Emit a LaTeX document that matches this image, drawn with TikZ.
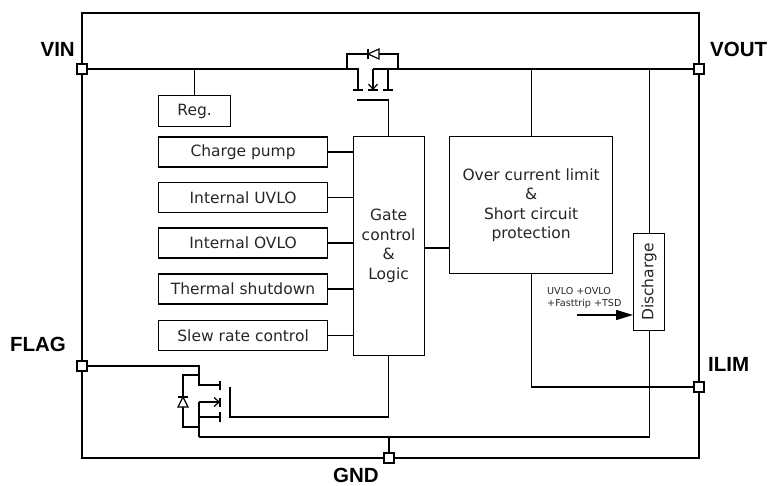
\documentclass[tikz,border=0pt]{standalone}
\usepackage{fontspec}
\usepackage{graphicx}
\setmainfont{DejaVu Sans}
\newfontfamily\labelfont{Liberation Sans}
\usetikzlibrary{arrows.meta}
\begin{document}
\begin{tikzpicture}[x=1pt,y=-1pt,
  blk/.style={draw, line width=1.2pt, inner sep=0pt, anchor=north west, align=center,
    text=black!85, font=\fontsize{15.5}{19.5}\selectfont},
  pinbox/.style={draw, fill=white, line width=1.2pt, minimum size=10pt, inner sep=0pt},
  wire/.style={line width=1.2pt},
  frameline/.style={line width=2.2pt},
  plabel/.style={inner sep=0pt, font=\labelfont\bfseries\fontsize{20.5}{24}\selectfont},
  barb/.style={-{Straight Barb[length=5pt,width=9pt]}}
]
\useasboundingbox (0,0) rectangle (771,486);
% frame
\draw[frameline] (82,13) rectangle (699,458);
% pins
\node[pinbox] (vin) at (82,69) {};
\node[pinbox] (vout) at (699,69) {};
\node[pinbox] (flag) at (82,366) {};
\node[pinbox] (ilim) at (699,387) {};
\node[pinbox] (gnd) at (389,458) {};
% pin labels
\node[plabel, anchor=east] (vinl) at (75,49.5) {VIN};
\node[plabel, anchor=west] (voutl) at (710,49.5) {VOUT};
\node[plabel, anchor=east] (flagl) at (66,344.5) {FLAG};
\node[plabel, anchor=west] (iliml) at (708,364.5) {ILIM};
\node[plabel] (gndl) at (356,475) {GND};
% blocks
\node[blk, minimum width=72pt, minimum height=31pt] (reg) at (158,95) {Reg.};
\node[blk, minimum width=169pt, minimum height=30pt] (cp) at (158,136.5) {Charge pump};
\node[blk, minimum width=169pt, minimum height=30pt] (uvlo) at (158,182) {Internal UVLO};
\node[blk, minimum width=169pt, minimum height=30pt] (ovlo) at (158,227.5) {Internal OVLO};
\node[blk, minimum width=169pt, minimum height=30pt] (tsd) at (158,273.5) {Thermal shutdown};
\node[blk, minimum width=169pt, minimum height=30pt] (slew) at (158,320) {Slew rate control};
\node[blk, minimum width=71pt, minimum height=219pt] (gate) at (352.5,136) {Gate\\control\\\&\\Logic};
\node[blk, minimum width=163pt, minimum height=137pt] (ocl) at (449,136) {Over current limit\\\&\\Short circuit\\protection};
\node[blk, minimum width=31pt, minimum height=97pt] (dis) at (633,233) {\rotatebox{90}{Discharge}};
\node[anchor=west, inner sep=0pt, align=left, text=black!85, font=\fontsize{9.6}{12}\selectfont] (sig) at (547,297.5) {UVLO +OVLO\\+Fasttrip +TSD};
% helper coordinates
\coordinate (q1dtop) at (358,69);
\coordinate (q1stop) at (373,69);
\coordinate (q1g) at (357,100);
\coordinate (q2d) at (199,366);
\coordinate (q2s) at (199,437);
\coordinate (q2g) at (230,417);
\coordinate (g2o) at (436,248);
\coordinate (arrst) at (577,315);
% top rail and power MOSFET
\draw[wire] (vin.east) -- (q1dtop) -- (358,90);
\draw[wire] (353,90) -- (363,90);
\draw[wire] (vout.west) -- (q1stop);
\draw[wire, barb] (q1stop) -- (373,90);
\draw[wire] (368,90) -- (378,90);
\draw[wire] (388,69) -- (388,90);
\draw[wire] (383,90) -- (393,90);
\draw[wire] (gate.north) |- (q1g);
% body diode of power MOSFET
\draw[wire] (347,69) -- (347,54) -- (398,54) -- (398,69);
\draw[wire, fill=white] (368,54) -- (379,49) -- (379,59) -- cycle;
\draw[wire] (368,49) -- (368,59);
% regulator
\draw[wire] (reg.north) -- (reg.north |- vin);
% blocks to gate logic
\foreach \b in {cp,uvlo,ovlo,tsd,slew}{
  \draw[wire] (\b.east) -- (\b.east -| gate.west);
}
\draw[wire] (g2o -| gate.east) -- (g2o -| ocl.west);
% over current limit
\draw[wire] (ocl.north) -- (ocl.north |- vout);
\draw[wire] (ocl.south) |- (ilim.west);
% discharge
\draw[wire] (dis.north) -- (dis.north |- vout);
\draw[wire] (dis.south) |- (q2s);
\draw[line width=1.5pt, -{Triangle[length=17pt,width=10pt]}] (arrst) -- (arrst -| dis.west);
% GND
\draw[wire] (gnd.north) -- (gnd.north |- q2s);
% FLAG MOSFET
\draw[wire] (flag.east) -- (q2d) -- (199,385) -- (220,385);
\draw[wire] (220,380.5) -- (220,390);
\draw[wire, barb] (199,402) -- (220,402);
\draw[wire] (220,397.5) -- (220,406.5);
\draw[wire] (199,402) -- (q2s);
\draw[wire] (199,417) -- (220,417);
\draw[wire] (220,412) -- (220,422);
\draw[wire] (gate.south) |- (q2g) -- (230,387);
% body diode of FLAG MOSFET
\draw[wire] (199,375) -- (183,375) -- (183,427) -- (199,427);
\draw[wire, fill=white] (183,397) -- (178,407) -- (188,407) -- cycle;
\draw[wire] (178,397) -- (188,397);
\end{tikzpicture}
\end{document}
